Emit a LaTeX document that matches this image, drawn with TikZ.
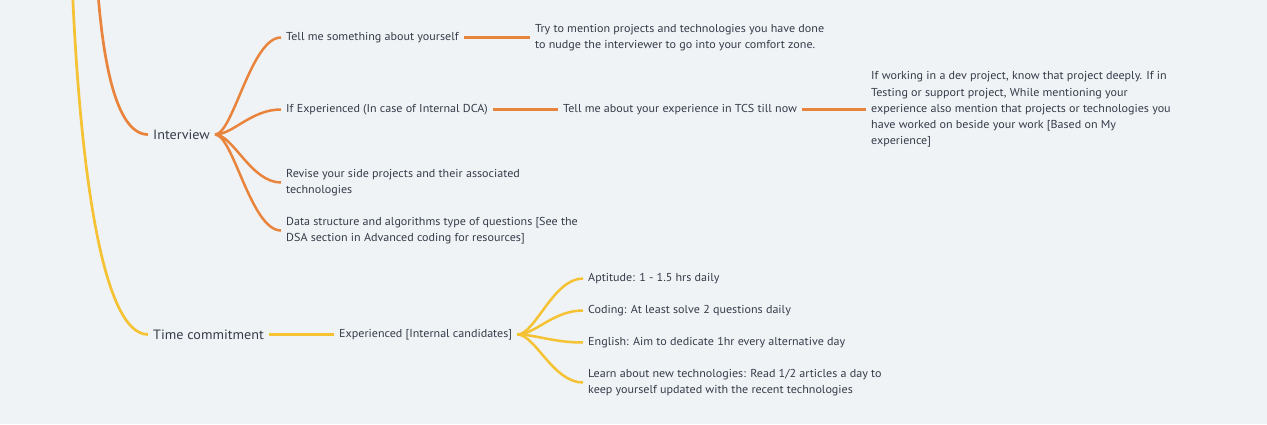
\documentclass[tikz,border=0pt]{standalone}
\usepackage{fontspec}
\setmainfont[FakeStretch=1.05]{PT Sans}
\definecolor{bg}{HTML}{F0F3F6}
\definecolor{orn}{HTML}{E9843C}
\definecolor{yel}{HTML}{F4C232}
\definecolor{txt}{HTML}{343C49}
\begin{document}
\begin{tikzpicture}[x=1pt,y=-1pt,
  leaf/.style={anchor=west, inner xsep=5pt, inner ysep=2pt, text=txt, font=\fontsize{11.5}{16.2}\selectfont, align=left},
  mainn/.style={anchor=west, inner xsep=5pt, inner ysep=2pt, text=txt, font=\fontsize{13.5}{16}\selectfont},
  ob/.style={draw=orn, line width=2.5pt},
  yb/.style={draw=yel, line width=2.5pt}]
\fill[bg] (0,0) rectangle (1267,424);
\useasboundingbox (0,0) rectangle (1267,424);
\clip (0,0) rectangle (1267,424);
\begin{scope}[yshift=-1.5pt]
\coordinate (otop) at (96,-40);
\coordinate (ytop) at (70,-80);

\node[mainn] (iv) at (148,133) {Interview};
\node[mainn] (tc) at (148,333) {Time commitment};

\node[leaf] (t1) at (281,36) {Tell me something about yourself};
\node[leaf] (t1a) at (530,36) {Try to mention projects and technologies you have done\\to nudge the interviewer to go into your comfort zone.};
\node[leaf] (t2) at (281,108) {If Experienced (In case of Internal DCA)};
\node[leaf] (t2a) at (558,108) {Tell me about your experience in TCS till now};
\node[leaf] (t2b) at (866,108) {If working in a dev project, know that project deeply. If in\\Testing or support project, While mentioning your\\experience also mention that projects or technologies you\\have worked on beside your work [Based on My\\experience]};
\node[leaf] (t3) at (281,181) {Revise your side projects and their associated\\technologies};
\node[leaf] (t4) at (281,229) {Data structure and algorithms type of questions [See the\\DSA section in Advanced coding for resources]};

\node[leaf] (e1) at (334,333) {Experienced [Internal candidates]};
\node[leaf] (y1) at (583,277) {Aptitude: 1 - 1.5 hrs daily};
\node[leaf] (y2) at (583,309) {Coding: At least solve 2 questions daily};
\node[leaf] (y3) at (583,341) {English: Aim to dedicate 1hr every alternative day};
\node[leaf] (y4) at (583,381) {Learn about new technologies: Read 1/2 articles a day to\\keep yourself updated with the recent technologies};

% main branches
\draw[ob, line width=2.7pt] (otop) .. controls (100,40) and (112,133) .. (iv.west);
\draw[yb, line width=2.7pt] (ytop) .. controls (76,150) and (100,333) .. (tc.west);

% interview children
\foreach \c in {t1,t2,t3,t4}
  \draw[ob] (iv.east) .. controls +(18,0) and +(-30,0) .. (\c.west);
\draw[ob] (t1.east) -- (t1a.west);
\draw[ob] (t2.east) -- (t2a.west);
\draw[ob] (t2a.east) -- (t2b.west);

% time commitment
\draw[yb] (tc.east) -- (e1.west);
\foreach \c in {y1,y2,y3,y4}
  \draw[yb] (e1.east) .. controls +(18,0) and +(-30,0) .. (\c.west);
\end{scope}
\end{tikzpicture}
\end{document}
